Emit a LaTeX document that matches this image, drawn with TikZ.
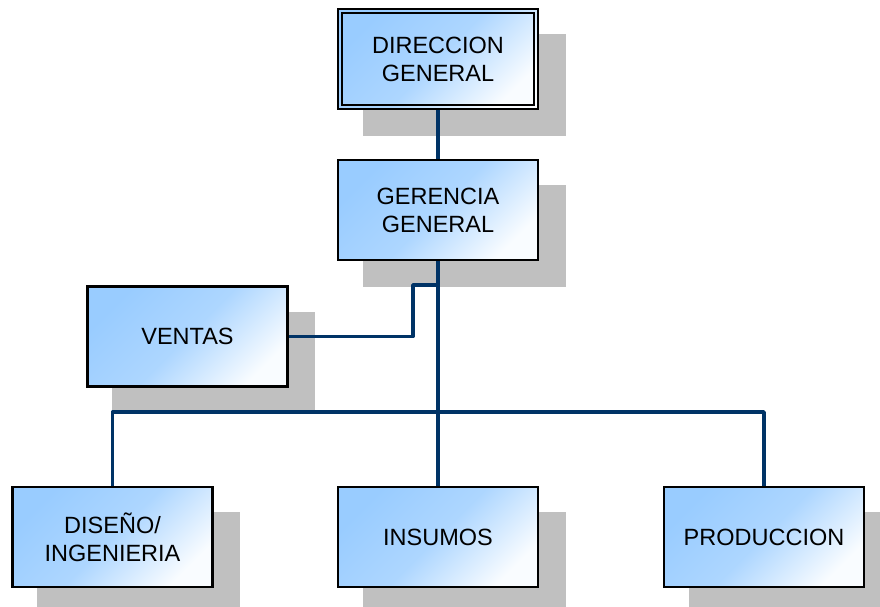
\documentclass[tikz,border=0pt]{standalone}
\usepackage{fontspec}
\setmainfont{Liberation Sans}
\usetikzlibrary{shadows}
\definecolor{boxblue}{RGB}{153,204,255}
\definecolor{linkblue}{RGB}{0,51,102}
\definecolor{shadowgray}{RGB}{192,192,192}
\begin{document}
\begin{tikzpicture}[x=1pt,y=-1pt,
  orgbox/.style={draw=black, line width=2.3pt, minimum width=200pt, minimum height=100pt,
    align=center, inner sep=2pt,
    font=\fontsize{23.5}{28}\selectfont,
    shading=axis, top color=boxblue, bottom color=boxblue!6!white, middle color=boxblue!80!white,
    shading angle=45,
    drop shadow={shadow xshift=26pt, shadow yshift=-25.5pt, shadow scale=1.015, fill=shadowgray, opacity=1}},
  link/.style={draw=linkblue, line width=3.4pt, line join=round}]
\useasboundingbox (0,0) rectangle (880,607);
\node[orgbox] (dir) at (438,59) {DIRECCION\\GENERAL};
\draw[line width=1.5pt] ([shift={(5pt,-5pt)}]dir.north west) rectangle ([shift={(-5pt,5pt)}]dir.south east);
\node[orgbox] (ger) at (438,210) {GERENCIA\\GENERAL};
\node[orgbox] (ven) at (187.5,336.5) {VENTAS};
\node[orgbox] (dis) at (112.5,537) {DISEÑO/\\INGENIERIA};
\node[orgbox] (ins) at (438,537) {INSUMOS};
\node[orgbox] (pro) at (764,537) {PRODUCCION};
\coordinate (vj) at (413,285);
\coordinate (bus) at (438,412);
\draw[link] (dir.south) -- (ger.north);
\draw[link] (ger.south) -- (ins.north);
\draw[link] (ven.east) -| (vj) -- (vj -| ger.south);
\draw[link] (dis.north) |- (bus) -| (pro.north);
\end{tikzpicture}
\end{document}
